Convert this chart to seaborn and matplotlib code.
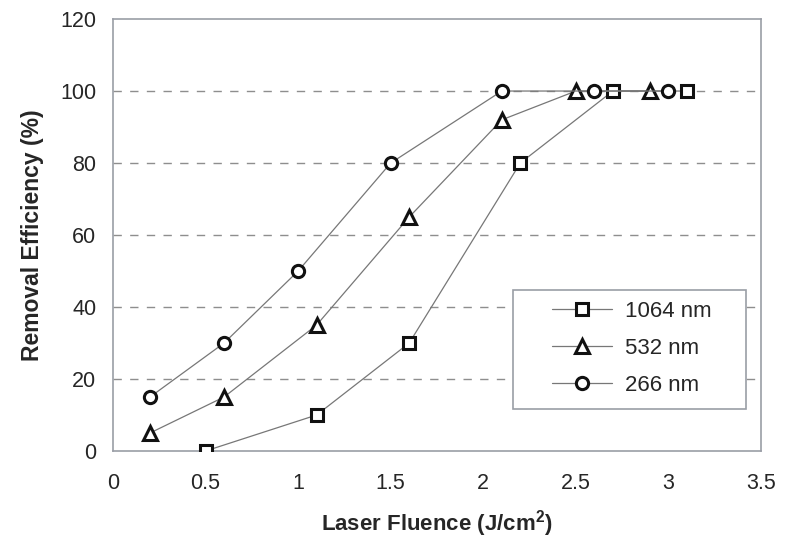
import numpy as np
import pandas as pd
import matplotlib
matplotlib.use("Agg")
import matplotlib.pyplot as plt
from matplotlib.patches import Rectangle
import seaborn as sns

# values
x_1064 = [0.5, 1.1, 1.6, 2.2, 2.7, 3.1]
y_1064 = [0, 10, 30, 80, 100, 100]
x_532 = [0.2, 0.6, 1.1, 1.6, 2.1, 2.5, 2.9]
y_532 = [5, 15, 35, 65, 92, 100, 100]
x_266 = [0.2, 0.6, 1.0, 1.5, 2.1, 2.6, 3.0]
y_266 = [15, 30, 50, 80, 100, 100, 100]
labels = ["1064 nm", "532 nm", "266 nm"]
markers = ["s", "^", "o"]

def make_df(x, y, label):
    return pd.DataFrame({"fluence": x, "eff": y, "series": label})

sns.set_style("white")
plt.rcParams["font.family"] = ["Liberation Sans", "DejaVu Sans"]

fig = plt.figure(figsize=(7.96, 5.44), dpi=100)
ax = fig.add_axes([0.142, 0.171, 0.814, 0.794])

frame_col = "#9a9ea6"
for y in [20, 40, 60, 80, 100]:
    ax.axhline(y, color="#8e8e8e", lw=1.0, ls=(0, (6, 6)), zorder=0)

data = [(x_1064, y_1064), (x_532, y_532), (x_266, y_266)]
for (xs, ys), lab, m in zip(data, labels, markers):
    df = make_df(xs, ys, lab)
    sns.lineplot(data=df, x="fluence", y="eff", ax=ax, color="#777777", lw=0.9,
                 marker=m, markersize=8.8 if m != "^" else 9.4,
                 markerfacecolor="white", markeredgecolor="#111111",
                 markeredgewidth=2.2, label=lab, zorder=3)

ax.set_xlim(0, 3.5)
ax.set_ylim(0, 120)
ax.set_xticks(np.arange(0, 3.51, 0.5))
ax.set_xticklabels(["0", "0.5", "1", "1.5", "2", "2.5", "3", "3.5"])
ax.set_yticks(np.arange(0, 121, 20))
ax.tick_params(axis="x", direction="in", length=4, color=frame_col, pad=16, labelsize=15.5)
ax.tick_params(axis="y", length=0, pad=12, labelsize=15.5)
for s in ax.spines.values():
    s.set_color(frame_col)
    s.set_linewidth(1.2)

ax.set_xlabel("Laser Fluence (J/cm$^{\\mathregular{2}}$)", fontsize=16, fontweight="bold", labelpad=10)
ax.set_ylabel("Removal Efficiency (%)", fontsize=16.5, fontweight="bold", labelpad=12)

# legend box drawn separately: wide side padding, tight top/bottom
ax.add_patch(Rectangle((0.617, 0.097), 0.36, 0.276, transform=ax.transAxes,
                       facecolor="white", edgecolor=frame_col, lw=1.2, zorder=2))
leg = ax.legend(loc="center", bbox_to_anchor=(0.801, 0.238), fontsize=16,
                markerscale=1.0, handlelength=2.7, handletextpad=0.6,
                labelspacing=0.72, borderpad=0.2, frameon=False)

fig.savefig("out.png", dpi=100)
